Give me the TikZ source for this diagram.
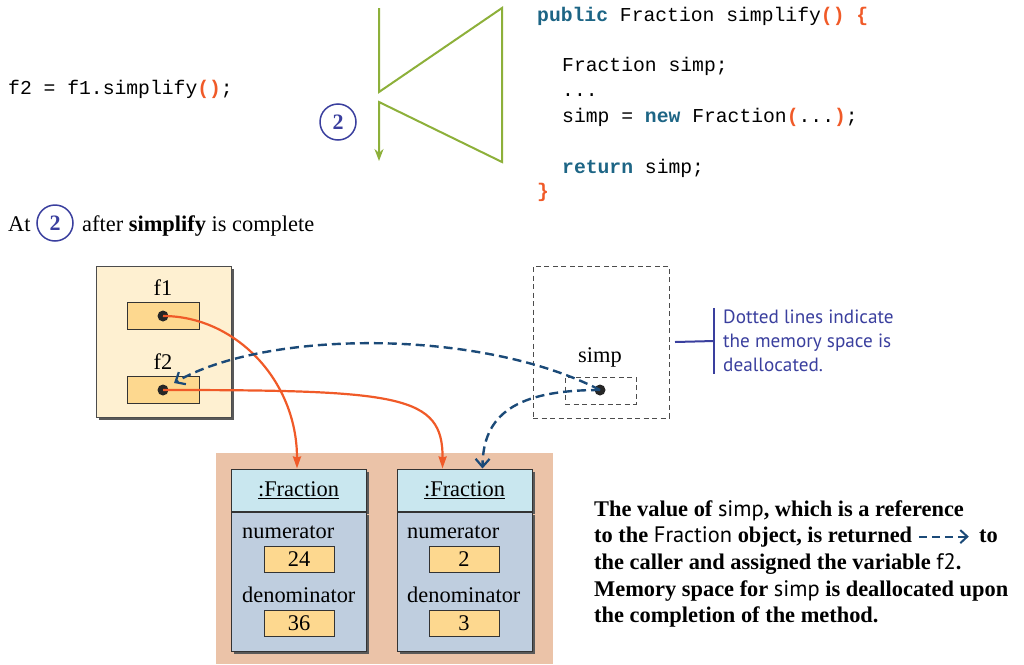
\documentclass[tikz,border=0pt]{standalone}
\usepackage{fontspec}
\setmainfont{Liberation Serif}
\setsansfont{PT Sans}
\setmonofont{Liberation Mono}
\usetikzlibrary{arrows.meta,shadows}

\definecolor{codeblue}{HTML}{1D6585}
\definecolor{codeorange}{HTML}{F05A28}
\definecolor{stepgreen}{HTML}{8DB03A}
\definecolor{noteblue}{HTML}{3A3F9E}
\definecolor{refnavy}{HTML}{1B4A78}
\definecolor{framecream}{HTML}{FEF0D1}
\definecolor{slotorange}{HTML}{FDD88F}
\definecolor{heapsalmon}{HTML}{EBC3A8}
\definecolor{headcyan}{HTML}{C9E7EF}
\definecolor{bodysteel}{HTML}{BFCEDF}

\newcommand\kw[1]{\textcolor{codeblue}{\bfseries #1}}
\newcommand\brk[1]{\textcolor{codeorange}{\bfseries #1}}
\newcommand\svar[1]{{\sffamily\mdseries #1}}

\begin{document}
\begin{tikzpicture}[x=1pt, y=-1pt,
  every node/.style={font=\fontsize{22.4}{26}\selectfont},
  code/.style={anchor=base west, inner sep=0pt, font=\fontsize{19.7}{24}\selectfont\ttfamily},
  stepnum/.style={circle, draw=noteblue, line width=1.5pt, text=noteblue, minimum size=36pt, inner sep=0pt, font=\fontsize{22}{26}\selectfont\bfseries},
  boxshadow/.style={drop shadow={shadow xshift=3pt, shadow yshift=-3pt, fill=black!65, opacity=1}},
  frame/.style={draw=black!70, fill=framecream, line width=1pt, boxshadow},
  slotbox/.style={draw=black!80, fill=slotorange, line width=1pt, minimum width=72pt, minimum height=27pt, inner sep=0pt},
  valbox/.style={slotbox, minimum width=70pt, minimum height=26pt},
  dot/.style={circle, fill=black!85, inner sep=0pt, minimum size=11pt},
  gone/.style={draw=black!70, dash pattern=on 5pt off 3.5pt, line width=1pt, inner sep=0pt},
  objhead/.style={draw=black!80, fill=headcyan, line width=1pt, minimum width=135pt, minimum height=42pt, boxshadow},
  objbody/.style={draw=black!80, fill=bodysteel, line width=1pt, minimum width=135pt, minimum height=139pt, anchor=north, boxshadow},
  field/.style={anchor=base west, inner sep=0pt},
  ref/.style={codeorange, line width=2.2pt, -{Stealth[length=12pt,width=8pt,inset=1pt]}},
  ret/.style={refnavy, line width=2.4pt, dash pattern=on 9pt off 5pt, -{Straight Barb[length=8pt,width=14pt,line width=2.2pt]}},
  note/.style={align=left, inner sep=0pt, text=noteblue, font=\fontsize{19.2}{24}\selectfont\sffamily}]
  \useasboundingbox (0,0) rectangle (1024,664);

  \node[code] (call) at (8,94) {f2 = f1.simplify\brk{()};};
  \draw[stepgreen, line width=2pt, -{Stealth[length=12pt,width=9pt]}]
    (379,8) -- (379,92) -- (502,8) -- (502,162) -- (379,102) -- (379,161);
  \node[stepnum] (stepa) at (338,122) {2};
  \node[code] (code1) at (537,21) {\kw{public} Fraction simplify\brk{()} \brk{\{}};
  \node[code] (code2) at (562,71) {Fraction simp;};
  \node[code] (code3) at (562,96) {...};
  \node[code] (code4) at (562,122) {simp = \kw{new} Fraction\brk{(}...\brk{)};};
  \node[code] (code5) at (562,173) {\kw{return} simp;};
  \node[code] (code6) at (537,197) {\brk{\}}};

  \node[anchor=base west, inner sep=0pt] (atword) at (8,231) {At};
  \node[stepnum] (stepb) at (55,223) {2};
  \node[anchor=base west, inner sep=0pt] (atrest) at (82,231) {after \textbf{simplify} is complete};

  \node[frame, minimum width=135pt, minimum height=151pt] (caller) at (163.5,341.5) {};
  \node (f1lbl) at (163,288) {f1};
  \node[slotbox] (f1slot) at (163,316) {};
  \node[dot] (f1dot) at (f1slot.center) {};
  \node (f2lbl) at (163,362) {f2};
  \node[slotbox] (f2slot) at (163,390) {};
  \node[dot] (f2dot) at (f2slot.center) {};

  \node[gone, minimum width=136pt, minimum height=152pt] (simpframe) at (601,342) {};
  \node (simplbl) at (600,357) {simp};
  \node[gone, minimum width=71pt, minimum height=27pt] (simpslot) at (600.5,390.5) {};
  \node[dot] (simpdot) at (600,390) {};

  \node[note, anchor=west] (note) at (723,341) {Dotted lines indicate\\the memory space is\\deallocated.};
  \draw[noteblue, line width=2pt] ([xshift=-9pt,yshift=2pt]note.north west) -- ([xshift=-9pt,yshift=-2pt]note.south west);
  \draw[noteblue, line width=2pt] ([xshift=-9pt]note.west) -- (simpframe.east -| 675,0);

  \node[fill=heapsalmon, minimum width=337pt, minimum height=211pt, inner sep=0pt] (heap) at (384.5,558.5) {};
  \node[objhead] (obj1head) at (298.5,490) {\underline{:Fraction}};
  \node[objbody] (obj1body) at (obj1head.south) {};
  \node[field] (num1) at (242,538) {numerator};
  \node[valbox] (numval1) at (299,559) {24};
  \node[field] (den1) at (242,602) {denominator};
  \node[valbox] (denval1) at (299,623) {36};
  \node[objhead] (obj2head) at (464.5,490) {\underline{:Fraction}};
  \node[objbody] (obj2body) at (obj2head.south) {};
  \node[field] (num2) at (407,538) {numerator};
  \node[valbox] (numval2) at (464,559) {2};
  \node[field] (den2) at (407,602) {denominator};
  \node[valbox] (denval2) at (464,623) {3};

  \draw[ref] (f1dot.center) .. controls (235,316) and (297,380) .. ([xshift=-1.5pt]obj1head.north);
  \draw[ref] (f2dot.center) .. controls (400,390) and (443,395) .. ([xshift=46pt]obj2head.north west);
  \draw[ret] (simpdot.center) .. controls (480,328) and (265,330) .. ([xshift=11pt,yshift=7pt]f2dot.center);
  \draw[ret] (simpdot.center) .. controls (515,390) and (483,415) .. ([xshift=86pt]obj2head.north west);

  \node[anchor=north west, inner sep=0pt, align=left, font=\fontsize{22.4}{26.7}\selectfont\bfseries] (summary) at (594,500)
    {The value of \svar{simp}, which is a reference\\
     to the \svar{Fraction} object, is returned \tikz[baseline=-0.6ex]\draw[refnavy, line width=2pt, dash pattern=on 8pt off 5pt, -{Straight Barb[length=7pt,width=13pt,line width=2pt]}] (0pt,0pt) -- (50pt,0pt);\, to\\
     the caller and assigned the variable \svar{f2}.\\
     Memory space for \svar{simp} is deallocated upon\\
     the completion of the method.};
\end{tikzpicture}
\end{document}
